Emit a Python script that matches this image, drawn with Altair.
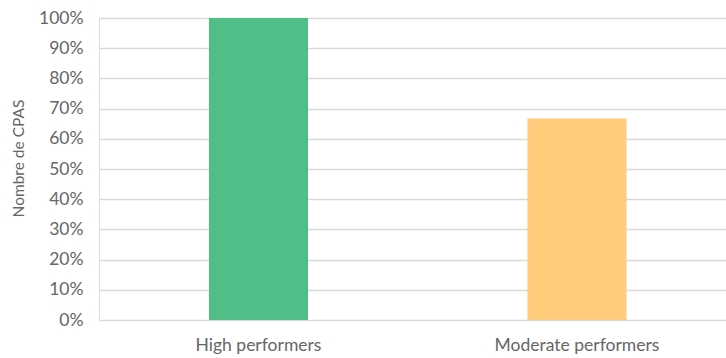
import altair as alt
import pandas as pd

categories = ["High performers", "Moderate performers"]
values = [1.0, 0.667]
colors = ["#52BE87", "#FECC7A"]
y_ticks = [0, 0.1, 0.2, 0.3, 0.4, 0.5, 0.6, 0.7, 0.8, 0.9, 1.0]

df = pd.DataFrame({"cat": categories, "val": values, "color": colors})

FONT = "Lato"
TXT = "#666666"
GRID = "#D9D9D9"

chart = alt.Chart(df).mark_bar().encode(
    x=alt.X(
        "cat:N",
        sort=categories,
        title=None,
        scale=alt.Scale(paddingInner=0.689, paddingOuter=0.3288, align=0.525),
        axis=alt.Axis(
            labelAngle=0,
            labelFont=FONT,
            labelFontSize=17.5,
            labelColor=TXT,
            labelPadding=16,
            ticks=False,
            domain=False,
            grid=False,
        ),
    ),
    y=alt.Y(
        "val:Q",
        title="Nombre de CPAS",
        scale=alt.Scale(domain=[0, 1], nice=False),
        axis=alt.Axis(
            values=y_ticks,
            format="%",
            labelFont=FONT,
            labelFontSize=17.5,
            labelColor=TXT,
            labelPadding=16,
            ticks=False,
            domain=False,
            grid=True,
            gridColor=GRID,
            gridWidth=1.5,
            titleFont=FONT,
            titleFontSize=15.5,
            titleFontWeight="normal",
            titleColor=TXT,
            titleAngle=-90,
            titleX=-81,
            titleY=140,
            titleAlign="center",
            titleBaseline="middle",
        ),
    ),
    color=alt.Color("color:N", scale=None, legend=None),
).properties(
    width=627,
    height=302,
    autosize=alt.AutoSizeParams(type="none"),
    padding={"left": 99, "top": 18, "right": 0, "bottom": 38},
).configure_view(stroke=None).configure(background="white")

chart.save("out.html", embed_options={"renderer": "svg", "actions": False})
